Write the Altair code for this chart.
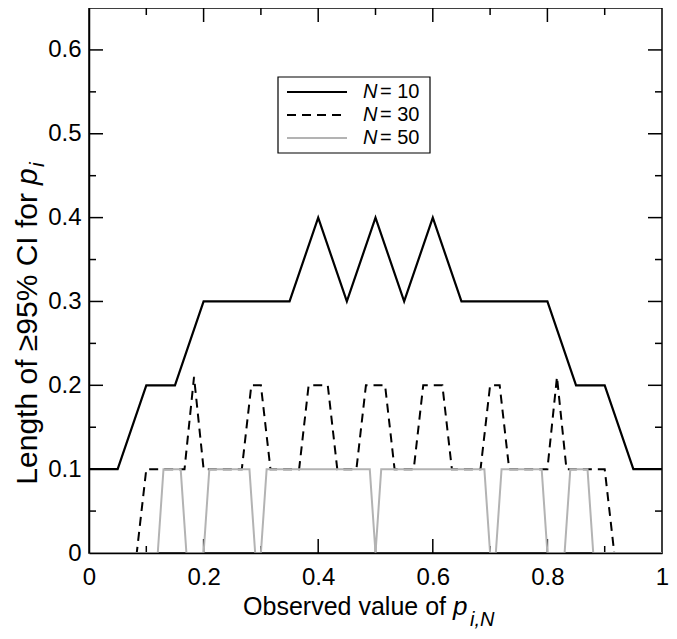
import altair as alt
import pandas as pd

# ---- data ----
x_n10 = [0, 0.05, 0.1, 0.15, 0.2, 0.35, 0.4, 0.45, 0.5, 0.55, 0.6, 0.65, 0.8, 0.85, 0.9, 0.95, 1.0]
y_n10 = [0.1, 0.1, 0.2, 0.2, 0.3, 0.3, 0.4, 0.3, 0.4, 0.3, 0.4, 0.3, 0.3, 0.2, 0.2, 0.1, 0.1]

x_n30 = [0, 0.0833, 0.1, 0.1667, 0.1833, 0.2, 0.2667, 0.2833, 0.3, 0.3167, 0.3667, 0.3833,
         0.4167, 0.4333, 0.4667, 0.4833, 0.5167, 0.5333, 0.5667, 0.5833, 0.6167, 0.6333,
         0.6833, 0.7, 0.7167, 0.7333, 0.8, 0.8167, 0.8333, 0.9, 0.9167, 1.0]
y_n30 = [0, 0, 0.1, 0.1, 0.21, 0.1, 0.1, 0.2, 0.2, 0.1, 0.1, 0.2,
         0.2, 0.1, 0.1, 0.2, 0.2, 0.1, 0.1, 0.2, 0.2, 0.1,
         0.1, 0.2, 0.2, 0.1, 0.1, 0.21, 0.1, 0.1, 0, 0]

x_n50 = [0, 0.12, 0.13, 0.16, 0.17, 0.2, 0.21, 0.28, 0.29, 0.3, 0.31, 0.49, 0.5, 0.51,
         0.69, 0.7, 0.71, 0.72, 0.79, 0.8, 0.83, 0.84, 0.87, 0.88, 1.0]
y_n50 = [0, 0, 0.1, 0.1, 0, 0, 0.1, 0.1, 0, 0, 0.1, 0.1, 0, 0.1,
         0.1, 0, 0, 0.1, 0.1, 0, 0, 0.1, 0.1, 0, 0]

x_labels = [0, 0.2, 0.4, 0.6, 0.8, 1]
y_labels = [0, 0.1, 0.2, 0.3, 0.4, 0.5, 0.6]
x_major = [0.2, 0.4, 0.6, 0.8]
x_minor = [0.1, 0.3, 0.5, 0.7, 0.9]
y_major = [0.1, 0.2, 0.3, 0.4, 0.5, 0.6]
y_minor = [0.05, 0.15, 0.25, 0.35, 0.45, 0.55]

series_labels = ["= 10", "= 30", "= 50"]
x_title = "Observed value of"
x_title_sub = "i,N"
y_title = "Length of \u226595% CI for"
y_title_sub = "i"
var_p = "p"
var_N = "N"

W, H = 573, 545
FONT = "Liberation Sans"
MAJ, MIN = 14, 7
GRAY = "#b3b3b3"

xs = alt.Scale(domain=[0, 1], nice=False, zero=False)
ys = alt.Scale(domain=[0, 0.65], nice=False, zero=False)

x_axis = alt.Axis(values=x_labels, format="~g", title=None, grid=False, ticks=False, tickSize=0,
                  domain=True, domainColor="black", domainWidth=1.5, labelFont=FONT,
                  labelFontSize=24, labelColor="black", labelPadding=12, zindex=1,
                  labelFlush=False, labelOverlap=False)
y_axis = alt.Axis(values=y_labels, format="~g", title=None, grid=False, ticks=False, tickSize=0,
                  domain=True, domainColor="black", domainWidth=1.5, labelFont=FONT,
                  labelFontSize=24, labelColor="black", labelPadding=8, zindex=1,
                  labelFlush=False, labelOverlap=False)

X = lambda f: alt.X(f, scale=xs, axis=x_axis)
Y = lambda f: alt.Y(f, scale=ys, axis=y_axis)

layers = []

# inward ticks (bottom/top on x, left/right on y)
def xticks(vals, size):
    df = pd.DataFrame({"v": vals})
    b = alt.Chart(df).mark_rule(color="black", strokeWidth=1.5).encode(
        x=X("v:Q"), y=alt.value(H), y2=alt.value(H - size))
    t = alt.Chart(df).mark_rule(color="black", strokeWidth=1.5).encode(
        x=X("v:Q"), y=alt.value(0), y2=alt.value(size))
    return [b, t]

def yticks(vals, size):
    df = pd.DataFrame({"v": vals})
    l = alt.Chart(df).mark_rule(color="black", strokeWidth=1.5).encode(
        y=Y("v:Q"), x=alt.value(0), x2=alt.value(size))
    r = alt.Chart(df).mark_rule(color="black", strokeWidth=1.5).encode(
        y=Y("v:Q"), x=alt.value(W), x2=alt.value(W - size))
    return [l, r]

layers += xticks(x_major, MAJ) + xticks(x_minor, MIN) + yticks(y_major, MAJ) + yticks(y_minor, MIN)

# data lines
d10 = pd.DataFrame({"x": x_n10, "y": y_n10})
d30 = pd.DataFrame({"x": x_n30, "y": y_n30})
d50 = pd.DataFrame({"x": x_n50, "y": y_n50})

l10 = alt.Chart(d10).mark_line(color="black", strokeWidth=2.2).encode(x=X("x:Q"), y=Y("y:Q"))
l30 = alt.Chart(d30).mark_line(color="black", strokeWidth=2, strokeDash=[9, 6]).encode(
    x=X("x:Q"), y=Y("y:Q"))
l50 = alt.Chart(d50).mark_line(color=GRAY, strokeWidth=2).encode(x=X("x:Q"), y=Y("y:Q"))
layers += [l10, l30, l50]

# legend box
one = pd.DataFrame({"k": [0]})
layers.append(alt.Chart(one).mark_rect(fill="white", stroke="black", strokeWidth=1.2).encode(
    x=alt.value(189), x2=alt.value(341), y=alt.value(69), y2=alt.value(145)))
row_y = [84, 107, 130]
styles = [dict(color="black", strokeWidth=2.2),
          dict(color="black", strokeWidth=2, strokeDash=[9, 6]),
          dict(color=GRAY, strokeWidth=2)]
for ry, st, lab in zip(row_y, styles, series_labels):
    layers.append(alt.Chart(one).mark_rule(**st).encode(
        x=alt.value(198), x2=alt.value(258), y=alt.value(ry)))
    layers.append(alt.Chart(pd.DataFrame({"t": [var_N]})).mark_text(
        font=FONT, fontSize=20, fontStyle="italic", align="left", baseline="middle", color="black"
    ).encode(x=alt.value(274), y=alt.value(ry), text="t:N"))
    layers.append(alt.Chart(pd.DataFrame({"t": [lab]})).mark_text(
        font=FONT, fontSize=20, align="left", baseline="middle", color="black"
    ).encode(x=alt.value(291), y=alt.value(ry), text="t:N"))

# x title (manual, for italic variable with subscript)
XT_Y = H + 62
layers.append(alt.Chart(pd.DataFrame({"t": [x_title]})).mark_text(
    font=FONT, fontSize=25, align="right", baseline="alphabetic", color="black"
).encode(x=alt.value(357), y=alt.value(XT_Y), text="t:N"))
layers.append(alt.Chart(pd.DataFrame({"t": [var_p]})).mark_text(
    font=FONT, fontSize=26, fontStyle="italic", align="left", baseline="alphabetic", color="black"
).encode(x=alt.value(364), y=alt.value(XT_Y), text="t:N"))
layers.append(alt.Chart(pd.DataFrame({"t": [x_title_sub]})).mark_text(
    font=FONT, fontSize=20, fontStyle="italic", align="left", baseline="alphabetic", color="black"
).encode(x=alt.value(381), y=alt.value(XT_Y + 11), text="t:N"))

# y title (manual, rotated)
YT_X = -52
YT_P = 177
YFS = 30
layers.append(alt.Chart(pd.DataFrame({"t": [y_title]})).mark_text(
    font=FONT, fontSize=YFS, align="right", baseline="alphabetic", angle=270, color="black"
).encode(x=alt.value(YT_X), y=alt.value(YT_P + 8), text="t:N"))
layers.append(alt.Chart(pd.DataFrame({"t": [var_p]})).mark_text(
    font=FONT, fontSize=YFS, fontStyle="italic", align="left", baseline="alphabetic", angle=270,
    color="black"
).encode(x=alt.value(YT_X), y=alt.value(YT_P), text="t:N"))
layers.append(alt.Chart(pd.DataFrame({"t": [y_title_sub]})).mark_text(
    font=FONT, fontSize=21, fontStyle="italic", align="left", baseline="alphabetic", angle=270,
    color="black"
).encode(x=alt.value(YT_X + 7), y=alt.value(YT_P - 18), text="t:N"))

chart = alt.layer(*layers).properties(
    width=W, height=H,
    autosize=alt.AutoSizeParams(type="none"),
    padding={"left": 81, "top": 0, "right": 7, "bottom": 623 - H},
).configure_view(stroke="black", strokeWidth=1.5)

chart.save("out.html", embed_options={"renderer": "svg", "actions": False})
